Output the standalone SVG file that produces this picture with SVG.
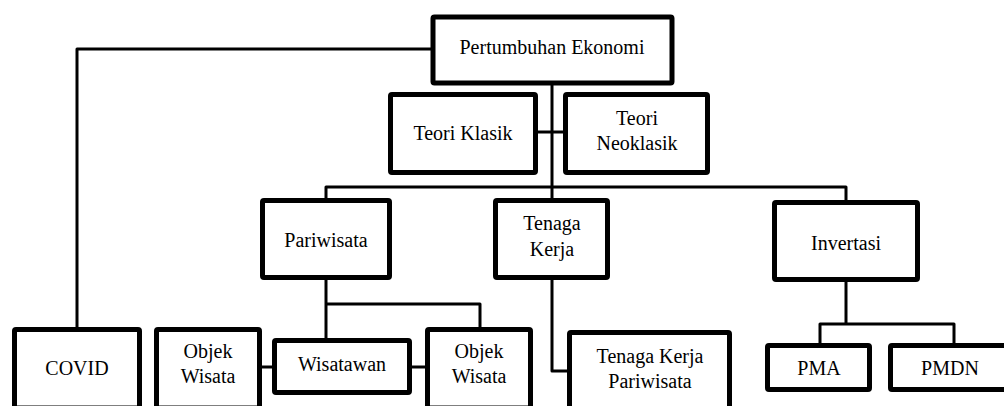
<svg xmlns="http://www.w3.org/2000/svg" width="1004" height="406" viewBox="0 0 1004 406">
<rect width="1004" height="406" fill="#fff"/>
<g id="connectors" fill="none" stroke="#000" stroke-width="3" stroke-linejoin="round">
<path d="M433 49 H77 V329"/>
<path d="M552 83 V187"/>
<path d="M538 132 H565"/>
<path d="M326 200 V187 H846 V202"/>
<path d="M552 187 V200"/>
<path d="M326 278 V340"/>
<path d="M326 304 H480 V329"/>
<path d="M259 367 H274"/>
<path d="M410 367 H427"/>
<path d="M552 278 V371 H569"/>
<path d="M846 280 V324"/>
<path d="M820 345 V324 H954 V345"/>
</g>
<g id="boxes" fill="#fff" stroke="#000" stroke-width="5" stroke-linejoin="round">
<rect id="pertumbuhan" x="433" y="17" width="239" height="66" rx="1.5"/>
<rect id="teori-klasik" x="390.5" y="94.5" width="145" height="78" rx="1.5"/>
<rect id="teori-neoklasik" x="565.5" y="94.5" width="142" height="78" rx="1.5"/>
<rect id="pariwisata" x="262.5" y="200.5" width="127" height="77" rx="1.5"/>
<rect id="tenaga-kerja" x="495.5" y="200.5" width="112" height="77" rx="1.5"/>
<rect id="invertasi" x="774.5" y="202.5" width="143" height="77" rx="1.5"/>
<rect id="covid" x="14.5" y="329.5" width="125" height="78.5" rx="1.5"/>
<rect id="objek-wisata-1" x="156.5" y="329.5" width="103" height="78.5" rx="1.5"/>
<rect id="wisatawan" x="274.5" y="340.5" width="135" height="52" rx="1.5"/>
<rect id="objek-wisata-2" x="427.5" y="329.5" width="103" height="78.5" rx="1.5"/>
<rect id="tenaga-kerja-pariwisata" x="569.5" y="332.5" width="160" height="76" rx="1.5"/>
<rect id="pma" x="767.5" y="345.5" width="102" height="44" rx="1.5"/>
<rect id="pmdn" x="890.5" y="345.5" width="120" height="44" rx="1.5"/>
</g>
<text x="552" y="54" font-size="20" font-family="Liberation Serif" text-anchor="middle">Pertumbuhan Ekonomi</text>
<text x="463" y="140" font-size="20" font-family="Liberation Serif" text-anchor="middle">Teori Klasik</text>
<text x="637" y="125" font-size="20" font-family="Liberation Serif" text-anchor="middle">Teori</text>
<text x="637" y="150" font-size="20" font-family="Liberation Serif" text-anchor="middle">Neoklasik</text>
<text x="326" y="247" font-size="20" font-family="Liberation Serif" text-anchor="middle">Pariwisata</text>
<text x="552" y="230" font-size="20" font-family="Liberation Serif" text-anchor="middle">Tenaga</text>
<text x="552" y="256" font-size="20" font-family="Liberation Serif" text-anchor="middle">Kerja</text>
<text x="846" y="250" font-size="20" font-family="Liberation Serif" text-anchor="middle">Invertasi</text>
<text x="77" y="375" font-size="20" font-family="Liberation Serif" text-anchor="middle">COVID</text>
<text x="208" y="358" font-size="20" font-family="Liberation Serif" text-anchor="middle">Objek</text>
<text x="208" y="383" font-size="20" font-family="Liberation Serif" text-anchor="middle">Wisata</text>
<text x="342" y="371" font-size="20" font-family="Liberation Serif" text-anchor="middle">Wisatawan</text>
<text x="479" y="358" font-size="20" font-family="Liberation Serif" text-anchor="middle">Objek</text>
<text x="479" y="383" font-size="20" font-family="Liberation Serif" text-anchor="middle">Wisata</text>
<text x="650" y="363" font-size="20" font-family="Liberation Serif" text-anchor="middle">Tenaga Kerja</text>
<text x="650" y="388" font-size="20" font-family="Liberation Serif" text-anchor="middle">Pariwisata</text>
<text x="819" y="375" font-size="20" font-family="Liberation Serif" text-anchor="middle">PMA</text>
<text x="950" y="375" font-size="20" font-family="Liberation Serif" text-anchor="middle">PMDN</text>
</svg>
